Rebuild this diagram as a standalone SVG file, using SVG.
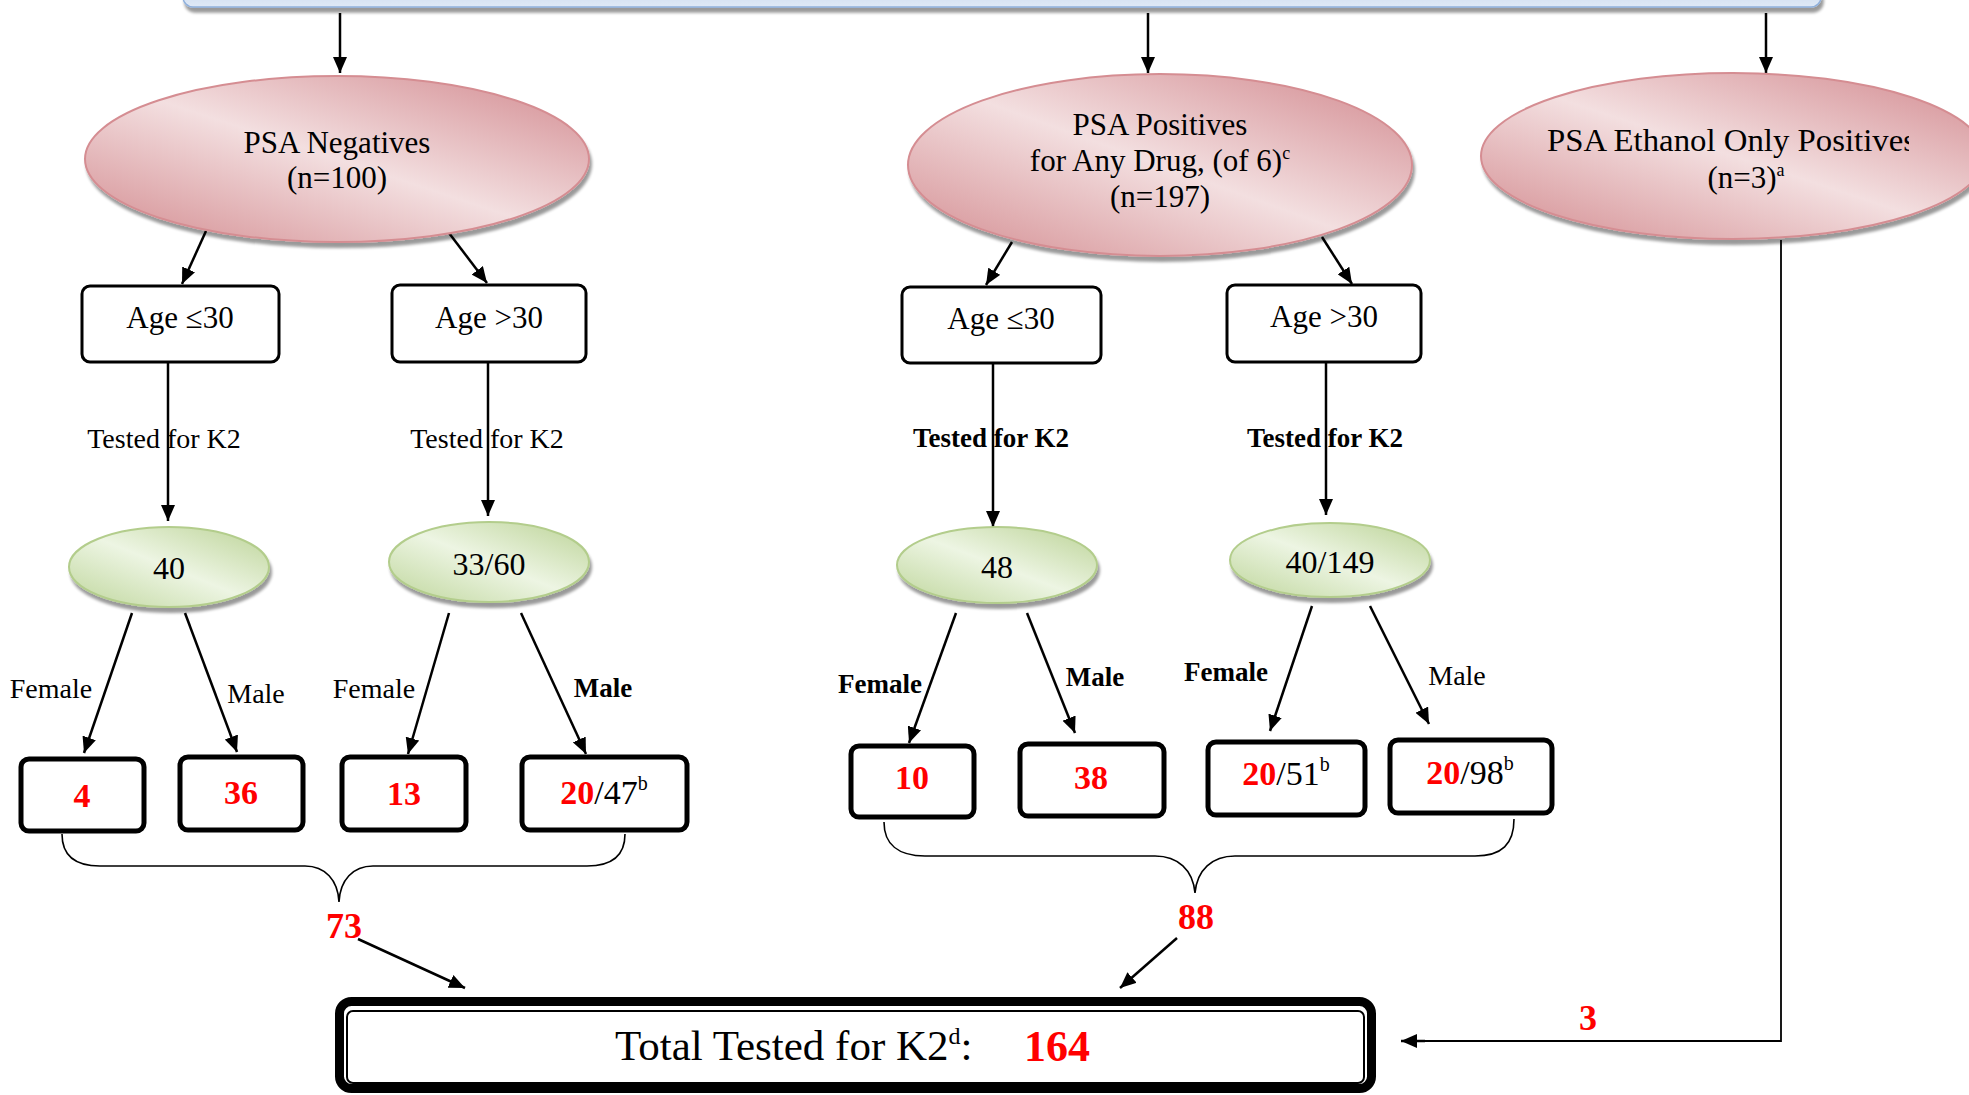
<svg xmlns="http://www.w3.org/2000/svg" width="1969" height="1095" viewBox="0 0 1969 1095">
<style>
text{font-family:"Liberation Serif","DejaVu Serif",serif;fill:#000}
.c{text-anchor:middle}
.b{font-weight:bold}
.red{fill:#ff0000}
.pk{fill:url(#pinkG);stroke:#d58d92;stroke-width:2}
.gr{fill:url(#greenG);stroke:#b3cd8c;stroke-width:2}
.age{fill:#fff;stroke:#000;stroke-width:3}
.res{fill:#fff;stroke:#000;stroke-width:5}
.ln{fill:none;stroke:#000;stroke-width:1.8}
.arr{fill:none;stroke:#000;stroke-width:2.5;marker-end:url(#ah)}
.br{fill:none;stroke:#000;stroke-width:1.6}
.ell{font-size:31px}
.ag{font-size:31px}
.tk{font-size:28px}
.tkb{font-size:27px;font-weight:bold}
.gn{font-size:32px}
.rn{font-size:34px}
.lab{font-size:28px}
.labb{font-size:27px;font-weight:bold}
.sum{font-size:36px;font-weight:bold;fill:#ff0000}
</style>
<defs>
<linearGradient id="pinkG" x1="1" y1="0" x2="0" y2="1">
<stop offset="0.08" stop-color="#d7969b"/>
<stop offset="0.5" stop-color="#f3dfe0"/>
<stop offset="0.92" stop-color="#d8989c"/>
</linearGradient>
<linearGradient id="greenG" x1="1" y1="0" x2="0" y2="1">
<stop offset="0.08" stop-color="#c3d8a2"/>
<stop offset="0.5" stop-color="#edf5e3"/>
<stop offset="0.92" stop-color="#c6dba7"/>
</linearGradient>
<linearGradient id="blueG" x1="0" y1="0" x2="0" y2="1">
<stop offset="0" stop-color="#b9cde8"/>
<stop offset="1" stop-color="#dfe9f6"/>
</linearGradient>
<filter id="sh" x="-10%" y="-15%" width="125%" height="140%">
<feGaussianBlur in="SourceAlpha" stdDeviation="1.5"/>
<feOffset dx="2" dy="5" result="o"/>
<feComponentTransfer><feFuncA type="linear" slope="0.4"/></feComponentTransfer>
<feMerge><feMergeNode/><feMergeNode in="SourceGraphic"/></feMerge>
</filter>
<marker id="ah" markerUnits="userSpaceOnUse" markerWidth="16" markerHeight="14" refX="16" refY="7" orient="auto">
<path d="M0,0 L16,7 L0,14 Z" fill="#000"/>
</marker>
<clipPath id="clipEth"><rect x="1470" y="60" width="439" height="200"/></clipPath>
</defs>
<rect width="1969" height="1095" fill="#fff"/>

<g id="top-bar">
<rect x="183" y="-30" width="1638" height="37" rx="10" fill="url(#blueG)" stroke="#8fb0dc" stroke-width="1.5" filter="url(#sh)"/>
</g>

<g id="connectors">
<line class="arr" x1="340" y1="13" x2="340" y2="73"/>
<line class="arr" x1="1148" y1="13" x2="1148" y2="73"/>
<line class="arr" x1="1766" y1="13" x2="1766" y2="73"/>
<line class="arr" x1="206" y1="231" x2="182" y2="284"/>
<line class="arr" x1="449" y1="233" x2="487" y2="283"/>
<line class="arr" x1="1012" y1="242" x2="986" y2="285"/>
<line class="arr" x1="1322" y1="237" x2="1352" y2="284"/>
<line class="arr" x1="168" y1="362" x2="168" y2="521"/>
<line class="arr" x1="488" y1="362" x2="488" y2="516"/>
<line class="arr" x1="993" y1="364" x2="993" y2="527"/>
<line class="arr" x1="1326" y1="362" x2="1326" y2="515"/>
<line class="arr" x1="132" y1="613" x2="84" y2="753"/>
<line class="arr" x1="185" y1="613" x2="237" y2="752"/>
<line class="arr" x1="449" y1="613" x2="408" y2="754"/>
<line class="arr" x1="521" y1="613" x2="586" y2="754"/>
<line class="arr" x1="956" y1="613" x2="909" y2="743"/>
<line class="arr" x1="1027" y1="613" x2="1075" y2="733"/>
<line class="arr" x1="1312" y1="606" x2="1270" y2="731"/>
<line class="arr" x1="1370" y1="606" x2="1429" y2="724"/>
<path class="br" d="M62,834 C62,855 75,866 100,866 L305,866 C325,866 338,880 339,902 C340,880 353,866 373,866 L587,866 C612,866 625,855 625,834"/>
<path class="br" d="M884,822 C884,844 898,856 925,856 L1155,856 C1178,856 1193,870 1195,893 C1197,870 1212,856 1235,856 L1475,856 C1502,856 1514,844 1514,819"/>
<line class="arr" x1="358" y1="939" x2="465" y2="988"/>
<line class="arr" x1="1177" y1="938" x2="1120" y2="988"/>
<polyline class="ln" points="1781,240 1781,1041 1420,1041"/>
<line class="arr" x1="1425" y1="1041" x2="1401" y2="1041"/>
<text class="sum c" x="344" y="938">73</text>
<text class="sum c" x="1196" y="929">88</text>
<text class="sum c" x="1588" y="1030">3</text>
<text class="tk c" x="164" y="448">Tested for K2</text>
<text class="tk c" x="487" y="448">Tested for K2</text>
<text class="tkb c" x="991" y="447">Tested for K2</text>
<text class="tkb c" x="1325" y="447">Tested for K2</text>
<text class="lab c" x="51" y="698">Female</text>
<text class="lab c" x="256" y="703">Male</text>
<text class="lab c" x="374" y="698">Female</text>
<text class="labb c" x="603" y="697">Male</text>
<text class="labb c" x="880" y="693">Female</text>
<text class="labb c" x="1095" y="686">Male</text>
<text class="labb c" x="1226" y="681">Female</text>
<text class="lab c" x="1457" y="685">Male</text>
</g>

<g id="psa-negatives">
<ellipse class="pk" cx="337" cy="159" rx="252" ry="83" filter="url(#sh)"/>
<text class="ell c" x="337" y="153">PSA Negatives</text>
<text class="ell c" x="337" y="188">(n=100)</text>
</g>
<g id="psa-positives">
<ellipse class="pk" cx="1160" cy="165" rx="252" ry="91" filter="url(#sh)"/>
<text class="ell c" x="1160" y="135">PSA Positives</text>
<text class="ell c" x="1160" y="171">for Any Drug, (of 6)<tspan font-size="18" dy="-12">c</tspan></text>
<text class="ell c" x="1160" y="207">(n=197)</text>
</g>
<g id="psa-ethanol">
<ellipse class="pk" cx="1733" cy="156" rx="252" ry="83" filter="url(#sh)"/>
<text class="ell" x="1547" y="151" textLength="369" lengthAdjust="spacingAndGlyphs" clip-path="url(#clipEth)">PSA Ethanol Only Positives</text>
<text class="ell c" x="1746" y="188">(n=3)<tspan font-size="18" dy="-12">a</tspan></text>
</g>

<g id="neg-age-le30">
<rect class="age" x="82" y="286" width="197" height="76" rx="8"/>
<text class="ag c" x="180" y="328">Age ≤30</text>
</g>
<g id="neg-age-gt30">
<rect class="age" x="392" y="285" width="194" height="77" rx="8"/>
<text class="ag c" x="489" y="328">Age &gt;30</text>
</g>
<g id="pos-age-le30">
<rect class="age" x="902" y="287" width="199" height="76" rx="8"/>
<text class="ag c" x="1001" y="329">Age ≤30</text>
</g>
<g id="pos-age-gt30">
<rect class="age" x="1227" y="285" width="194" height="77" rx="8"/>
<text class="ag c" x="1324" y="327">Age &gt;30</text>
</g>

<g id="neg-le30-tested">
<ellipse class="gr" cx="169" cy="567" rx="100" ry="40" filter="url(#sh)"/>
<text class="gn c" x="169" y="579">40</text>
</g>
<g id="neg-gt30-tested">
<ellipse class="gr" cx="489" cy="562" rx="100" ry="40" filter="url(#sh)"/>
<text class="gn c" x="489" y="575">33/60</text>
</g>
<g id="pos-le30-tested">
<ellipse class="gr" cx="997" cy="565" rx="100" ry="38" filter="url(#sh)"/>
<text class="gn c" x="997" y="578">48</text>
</g>
<g id="pos-gt30-tested">
<ellipse class="gr" cx="1330" cy="560" rx="100" ry="37" filter="url(#sh)"/>
<text class="gn c" x="1330" y="573">40/149</text>
</g>

<g id="res-4">
<rect class="res" x="21" y="759" width="123" height="72" rx="8"/>
<text class="rn b red c" x="82" y="807">4</text>
</g>
<g id="res-36">
<rect class="res" x="180" y="757" width="123" height="73" rx="8"/>
<text class="rn b red c" x="241" y="804">36</text>
</g>
<g id="res-13">
<rect class="res" x="342" y="757" width="124" height="73" rx="8"/>
<text class="rn b red c" x="404" y="805">13</text>
</g>
<g id="res-20-47">
<rect class="res" x="522" y="757" width="165" height="73" rx="8"/>
<text class="rn c" x="604" y="804"><tspan class="b red">20</tspan>/47<tspan font-size="20" dy="-14">b</tspan></text>
</g>
<g id="res-10">
<rect class="res" x="851" y="746" width="123" height="71" rx="8"/>
<text class="rn b red c" x="912" y="789">10</text>
</g>
<g id="res-38">
<rect class="res" x="1020" y="744" width="144" height="72" rx="8"/>
<text class="rn b red c" x="1091" y="789">38</text>
</g>
<g id="res-20-51">
<rect class="res" x="1208" y="742" width="157" height="73" rx="8"/>
<text class="rn c" x="1286" y="785"><tspan class="b red">20</tspan>/51<tspan font-size="20" dy="-14">b</tspan></text>
</g>
<g id="res-20-98">
<rect class="res" x="1390" y="740" width="162" height="73" rx="8"/>
<text class="rn c" x="1470" y="784"><tspan class="b red">20</tspan>/98<tspan font-size="20" dy="-14">b</tspan></text>
</g>

<g id="total">
<rect x="339.5" y="1001.5" width="1032" height="87" rx="12" fill="#fff" stroke="#000" stroke-width="9"/>
<rect x="347" y="1011" width="1017" height="72" rx="6" fill="none" stroke="#000" stroke-width="2"/>
<text x="615" y="1060" font-size="43">Total Tested for K2<tspan font-size="24" dy="-16">d</tspan><tspan dy="16">:</tspan></text>
<text x="1024" y="1061" font-size="44" class="b red">164</text>
</g>
</svg>
